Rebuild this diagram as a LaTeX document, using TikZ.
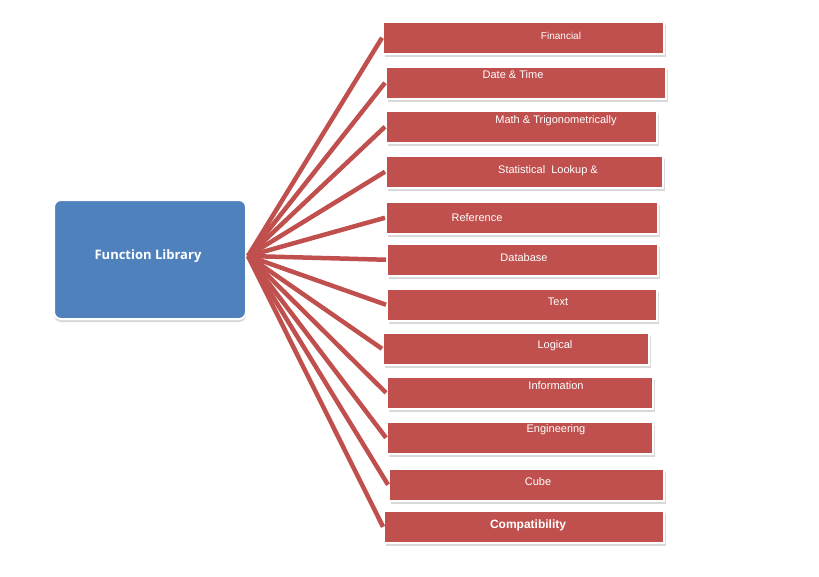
\documentclass[tikz,border=0pt]{standalone}
\usepackage{fontspec}
\setmainfont{Liberation Sans}
\newfontfamily\fl{Open Sans}
\usetikzlibrary{shadows}
\definecolor{redb}{HTML}{C0504D}
\definecolor{blueb}{HTML}{4F81BD}
\begin{document}
\begin{tikzpicture}[x=1pt,y=-1pt,
 rbox/.style={fill=redb,draw=white,line width=1.5pt,minimum height=32pt,anchor=north west,inner sep=0pt,
   drop shadow={shadow xshift=2pt,shadow yshift=-3pt,fill=black!25,opacity=.6}},
 lbl/.style={text=white,font=\fontsize{11}{12}\selectfont},
 conn/.style={draw=redb,line width=4.5pt}]
\useasboundingbox (0,0) rectangle (819,576);
\node[fill=blueb,draw=white,line width=2pt,rounded corners=7pt,minimum width=192pt,minimum height=119pt,anchor=north west,
  drop shadow={shadow xshift=0pt,shadow yshift=-3pt,fill=black!25,opacity=.6}] (fl) at (53,199) {};
\node[text=white,font=\fl\bfseries\fontsize{13}{14}\selectfont] (flt) at (148,256) {Function Library};
\coordinate (hub) at (248,256);
\foreach \n/\x/\y/\w in {1/382/21/281,2/385/66/280,3/385/110/271,4/385/155/277,5/385/201/272,6/386/243/271,7/386/288/270,8/382/332/266,9/386/376/266,10/386/421/266,11/388/468/275,12/383/510/280}{
  \node[rbox,minimum width=\w pt] (b\n) at (\x,\y) {};
}
\foreach \n in {1,...,12}{\draw[conn] (hub) -- (b\n.west);}
\node[lbl,font=\fontsize{10}{12}\selectfont] (t1) at (561,36) {Financial};
\node[lbl] (t2) at (513,75) {Date \& Time};
\node[lbl] (t3) at (556,121) {Math \& Trigonometrically};
\node[lbl] (t4) at (548,171) {Statistical\ \ Lookup \&};
\node[lbl] (t5) at (477,218) {Reference};
\node[lbl] (t6) at (524,258) {Database};
\node[lbl] (t7) at (558,302) {Text};
\node[lbl] (t8) at (555,346) {Logical};
\node[lbl] (t9) at (556,386) {Information};
\node[lbl] (t10) at (556,430) {Engineering};
\node[lbl] (t11) at (538,482) {Cube};
\node[lbl,font=\bfseries\fontsize{12}{14}\selectfont] (t12) at (528,525) {Compatibility};
\end{tikzpicture}
\end{document}
